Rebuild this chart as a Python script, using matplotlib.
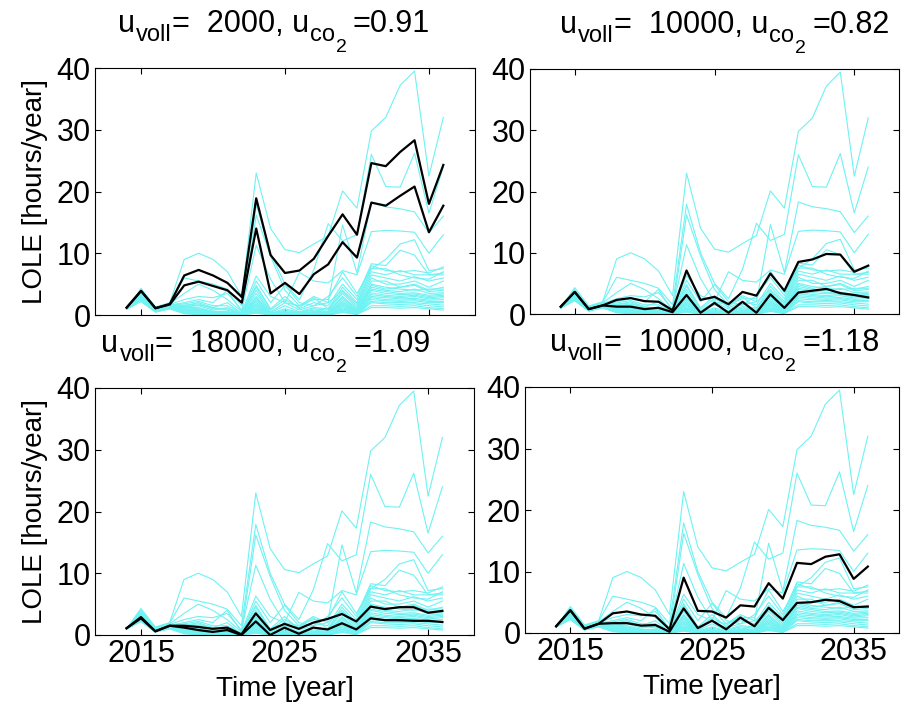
import matplotlib
matplotlib.use("Agg")
import matplotlib.pyplot as plt
import numpy as np

FAM = ['Liberation Sans Narrow', 'Liberation Sans', 'DejaVu Sans']
plt.rcParams['font.family'] = FAM

years = list(range(2014, 2037))

# Scenario lines (cyan), shared by all panels
cyan_lines = [
    [1.0,4.3,1.3,2.0, 9.0,10.0,9.0,7.0,3.0, 23.0,14.0,10.6,10.1,11.5,12.8,20.1,17.3, 29.8,32.0,37.2,39.5,22.5,32.0],
    [1.0,4.0,1.2,1.9, 6.0,5.5,5.0,4.2,1.5, 17.9,10.0,5.0,2.5,7.3,14.8,12.0,13.0, 26.0,20.8,20.7,26.2,16.5,24.0],
    [1.0,3.8,1.1,1.8, 3.5,5.0,4.0,2.5,0.5, 16.2,9.5,4.0,1.5,3.0,2.0,14.6,6.8, 18.3,17.5,17.2,16.7,13.3,16.0],
    [1.0,3.6,1.0,1.7, 2.5,3.0,2.8,3.5,0.8, 11.3,5.8,2.0,6.9,5.5,5.2,7.2,6.5, 13.5,13.7,13.6,13.4,10.0,13.0],
    [1.0,3.5,1.0,1.6, 2.0,2.5,2.0,4.0,0.5, 6.3,3.0,2.0,1.5,2.5,2.5,7.0,3.5, 7.5,9.0,11.5,12.2,7.2,7.5],
    [1.0,3.4,0.9,1.6, 1.8,2.2,1.5,1.5,0.3, 5.5,2.0,4.8,2.0,1.5,3.0,6.0,3.0, 8.3,8.0,10.5,9.7,6.5,6.8],
    [1.0,3.3,0.9,1.5, 1.5,2.0,1.2,2.0,0.2, 4.8,1.0,3.0,1.0,2.0,1.5,5.0,2.5, 8.0,7.2,7.0,7.2,6.8,7.8],
    [1.0,3.2,0.9,1.5, 1.6,1.8,1.0,1.0,0.2, 4.5,0.8,2.5,1.2,2.8,1.0,4.5,2.0, 7.5,7.5,6.5,6.0,5.8,7.0],
    [1.0,3.1,0.8,1.5, 1.4,1.6,1.2,0.8,0.1, 4.0,0.5,2.0,0.8,1.5,2.0,4.0,1.8, 7.0,6.5,7.2,6.5,6.5,6.5],
    [1.0,3.0,0.8,1.4, 1.3,1.5,0.8,1.2,0.1, 3.5,0.4,1.5,0.5,1.2,1.0,3.8,1.5, 6.5,6.0,5.5,6.2,5.5,6.0],
    [1.0,3.0,0.8,1.4, 1.2,1.2,0.6,0.6,0.0, 3.0,0.3,1.0,0.4,1.0,0.8,3.5,1.2, 6.0,5.0,5.0,5.5,4.5,5.5],
    [1.0,2.9,0.8,1.4, 1.2,1.0,0.5,0.5,0.0, 2.8,0.2,0.8,0.3,0.8,0.6,3.0,1.0, 5.5,5.5,4.5,5.0,4.0,4.5],
    [1.0,2.8,0.7,1.3, 1.0,0.8,0.4,0.4,0.0, 2.5,0.2,0.6,0.2,0.6,0.5,2.8,0.8, 5.0,4.5,4.2,4.0,4.2,4.2],
    [1.0,2.8,0.7,1.3, 1.0,0.9,0.5,0.3,0.0, 2.3,0.1,0.5,0.2,0.5,0.4,2.5,0.7, 4.8,4.2,4.5,4.8,3.8,4.0],
    [1.0,2.7,0.7,1.3, 0.9,0.7,0.3,0.4,0.0, 2.0,0.1,0.4,0.1,0.4,0.3,2.2,0.6, 4.5,4.0,3.8,4.2,3.5,3.6],
    [1.0,2.7,0.7,1.3, 0.8,0.6,0.3,0.2,0.0, 1.8,0.1,0.3,0.1,0.3,0.3,2.0,0.5, 4.2,3.8,3.5,3.6,3.2,3.4],
    [1.0,2.6,0.7,1.3, 0.8,0.5,0.2,0.3,0.0, 1.6,0.0,0.3,0.1,0.3,0.2,1.8,0.5, 4.0,3.5,3.3,3.4,3.0,3.2],
    [1.0,2.6,0.6,1.2, 0.7,0.5,0.2,0.2,0.0, 1.4,0.0,0.2,0.0,0.2,0.2,1.6,0.4, 3.6,3.2,3.0,3.2,2.8,3.0],
    [1.0,2.5,0.6,1.2, 0.6,0.4,0.2,0.1,0.0, 1.2,0.0,0.2,0.0,0.2,0.1,1.4,0.4, 3.3,3.0,2.8,3.0,2.6,2.8],
    [1.0,2.5,0.6,1.2, 0.6,0.3,0.1,0.1,0.0, 1.0,0.0,0.1,0.0,0.1,0.1,1.2,0.3, 3.0,2.8,2.6,2.7,2.4,2.5],
    [1.0,2.4,0.6,1.2, 0.5,0.3,0.1,0.1,0.0, 0.9,0.0,0.1,0.0,0.1,0.1,1.0,0.3, 2.8,2.5,2.4,2.5,2.2,2.2],
    [1.0,2.4,0.6,1.1, 0.4,0.2,0.1,0.0,0.0, 0.8,0.0,0.1,0.0,0.1,0.0,0.9,0.2, 2.5,2.3,2.2,2.3,2.0,2.0],
    [1.0,2.3,0.5,1.1, 0.4,0.2,0.0,0.0,0.0, 0.6,0.0,0.0,0.0,0.0,0.0,0.8,0.2, 2.2,2.0,2.0,2.0,1.8,1.6],
    [1.0,2.3,0.5,1.1, 0.3,0.1,0.0,0.0,0.0, 0.5,0.0,0.0,0.0,0.0,0.0,0.6,0.1, 2.0,1.8,1.7,1.8,1.5,1.3],
    [1.0,2.2,0.5,1.0, 0.3,0.1,0.0,0.0,0.0, 0.4,0.0,0.0,0.0,0.0,0.0,0.5,0.1, 1.5,1.5,1.4,1.5,1.2,1.0],
    [1.0,2.2,0.5,1.0, 0.2,0.1,0.0,0.0,0.0, 0.3,0.0,0.0,0.0,0.0,0.0,0.4,0.1, 1.2,1.2,1.1,1.2,1.0,0.8],
]

# Black lines per panel
p1_upper = [1.2,3.9,1.1,1.8, 6.4,7.3,6.4,5.2,2.9, 18.9,9.7,6.8,7.2,9.1,12.8,16.3,13.0, 24.6,24.1,26.4,28.3,18.0,24.3]
p1_lower = [1.2,3.9,1.1,1.7, 4.8,5.4,4.7,4.0,2.0, 14.0,3.5,5.2,3.4,6.6,8.2,11.8,9.3, 18.2,17.7,19.3,20.8,13.4,17.7]
p2_upper = [1.2,3.6,0.8,1.4, 2.3,2.6,2.1,2.0,0.6, 7.1,2.3,2.8,1.6,3.6,3.0,6.6,3.8, 8.5,8.9,9.8,9.7,6.9,7.9]
p2_lower = [1.2,3.6,0.8,1.4, 1.2,1.2,0.8,1.0,0.3, 3.1,0.2,1.8,0.2,2.0,0.2,3.2,1.0, 3.5,3.8,4.1,3.4,3.1,2.7]
p3_upper = [1.1,2.9,0.6,1.5, 1.5,1.3,1.0,1.2,0.1, 3.5,0.8,1.8,1.0,2.0,2.6,3.4,2.2, 4.6,4.2,4.5,4.5,3.6,3.9]
p3_lower = [1.1,2.7,0.6,1.5, 1.2,0.8,0.5,0.8,0.0, 2.2,0.0,1.2,0.2,1.2,0.9,1.9,0.9, 2.7,2.4,2.4,2.3,2.3,2.1]
p4_upper = [1.1,3.7,0.7,1.5, 3.2,3.5,3.0,2.8,0.6, 9.0,3.6,3.5,2.5,4.5,4.3,8.1,5.6, 11.4,11.2,12.4,12.8,8.8,10.8]
p4_lower = [1.1,3.7,0.7,1.5, 1.6,1.6,1.2,1.3,0.2, 4.0,0.8,2.0,0.6,2.5,1.1,4.1,2.1, 4.9,5.0,5.4,5.2,4.2,4.3]

u_voll = ['2000', '10000', '18000', '10000']
u_co2 = ['0.91', '0.82', '1.09', '1.18']
blacks = [(p1_upper, p1_lower), (p2_upper, p2_lower), (p3_upper, p3_lower), (p4_upper, p4_lower)]

W, H = 904, 713
fig = plt.figure(figsize=(W/100, H/100), dpi=100)
renderer = fig.canvas.get_renderer()
# pixel boxes: left, top, right, bottom
boxes = [(95, 68, 475, 315), (530, 69, 899, 314), (95, 388, 474, 635), (525, 387, 899, 633)]
title_centres = [274, 725, 266, 715]

FS = 22
LFS = 20
TFS = 22
SUB = 17
SUB2 = 14


def compose_title(xc, ybase, pieces):
    """pieces: (text, size, drop_px, gap_px). Drawn left to right, centred on xc."""
    texts = []
    total = 0
    for txt, size, drop, gap in pieces:
        t = fig.text(0, 0, txt, fontsize=size, va='baseline', ha='left')
        w = t.get_window_extent(renderer).width
        texts.append((t, drop, gap, w))
        total += gap + w
    x = xc - total / 2
    for t, drop, gap, w in texts:
        x += gap
        t.set_position((x / W, 1 - (ybase + drop) / H))
        x += w


for k, (l, t, r, b) in enumerate(boxes):
    ax = fig.add_axes([l/W, 1-b/H, (r-l)/W, (b-t)/H])
    for ln in cyan_lines:
        ax.plot(years, ln, color='#6EF2F2', lw=0.8)
    for ln in blacks[k]:
        ax.plot(years, ln, color='black', lw=1.6)
    ax.set_xlim(2011.8, 2038.2)
    ax.set_ylim(0, 40)
    ax.set_xticks([2015, 2025, 2035])
    ax.set_yticks([0, 10, 20, 30, 40])
    ax.tick_params(direction='in', top=True, right=True, labelsize=FS, length=4, width=0.8, pad=3)
    if k < 2:
        ax.set_xticklabels([])
    else:
        ax.set_xlabel('Time [year]', fontsize=LFS, labelpad=5)
    if k % 2 == 0:
        ax.set_ylabel('LOLE [hours/year]', fontsize=LFS, labelpad=6)
    for s in ax.spines.values():
        s.set_linewidth(0.8)

    pieces = [
        ('u', TFS, 0, 0),
        ('voll', SUB, 9, 1),
        ('=  ' + u_voll[k] + ', u', TFS, 0, 0),
        ('co', SUB, 9, 1),
        ('2', SUB2, 20, 1),
        ('=' + u_co2[k], TFS, 0, 6),
    ]
    compose_title(title_centres[k], t - 36, pieces)

fig.savefig('out.png', dpi=100)
